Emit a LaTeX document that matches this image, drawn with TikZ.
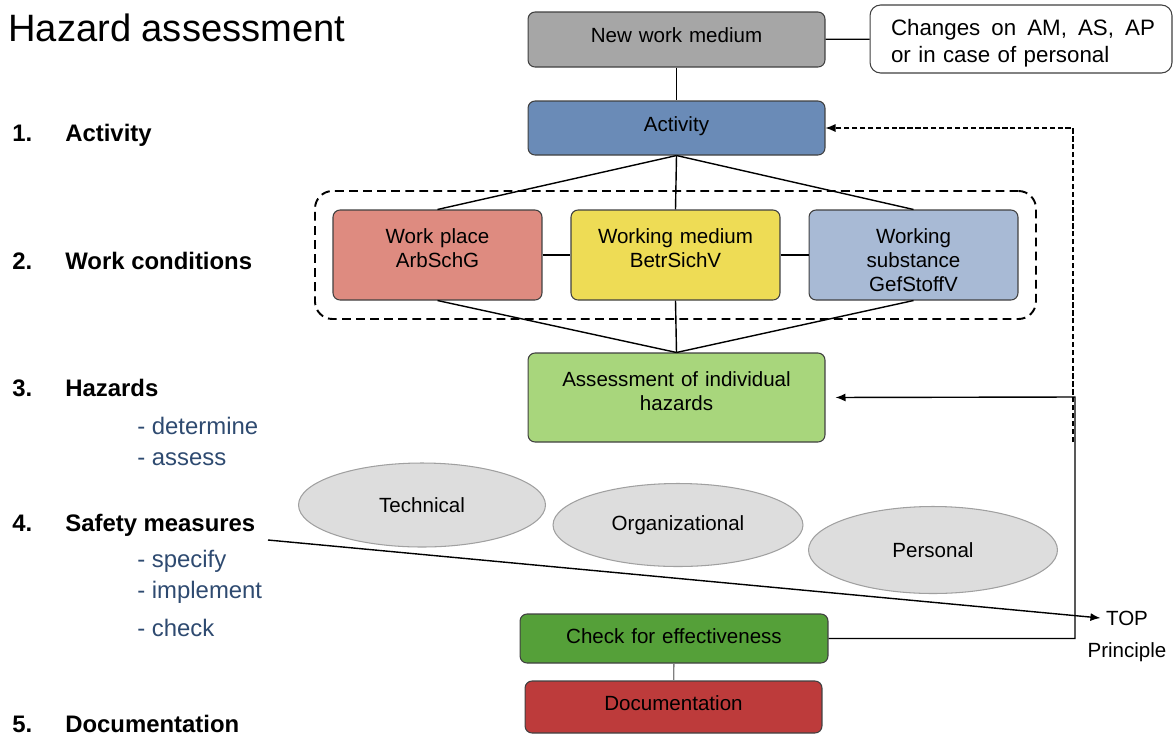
\documentclass[tikz,border=0pt]{standalone}
\usepackage{fontspec}
\setmainfont{Liberation Sans}
\usepackage{tikz}
\usetikzlibrary{positioning,arrows.meta,shapes.geometric,fit}
\definecolor{grisnew}{HTML}{A6A6A6}
\definecolor{azulact}{HTML}{6A8BB7}
\definecolor{rojowp}{HTML}{DE8B80}
\definecolor{amarillowm}{HTML}{EEDC55}
\definecolor{azulws}{HTML}{A8BAD5}
\definecolor{verdeass}{HTML}{A8D67C}
\definecolor{verdechk}{HTML}{55A039}
\definecolor{rojodoc}{HTML}{BD3B3B}
\definecolor{grisoval}{HTML}{DDDDDD}
\definecolor{bordeoval}{HTML}{A0A0A0}
\definecolor{azulsub}{HTML}{2E4A70}
\newcommand{\boxfont}{\fontsize{11.7}{13.8}\selectfont}
\newcommand{\itemfont}{\fontsize{13.6}{16}\selectfont}
\newcommand{\headfont}{\fontsize{21.7}{26}\selectfont}
\newcommand{\notefont}{\fontsize{12.7}{15.9}\selectfont}
\tikzset{arista/.style={line width=0.8pt}}
\tikzset{box/.style={draw=black!75,line width=0.6pt,rounded corners=4pt,text width=#1,align=center,inner xsep=0pt,inner ysep=0pt}}
\tikzset{tall/.style={text height=0.66cm,text depth=1.14cm}}
\tikzset{oval/.style={ellipse,draw=bordeoval,fill=grisoval,line width=0.6pt}}
\tikzset{num/.style={anchor=base west,inner sep=0pt,font=\itemfont\bfseries}}
\tikzset{sub/.style={anchor=base west,inner sep=0pt,font=\itemfont,text=azulsub}}
\tikzset{punta/.style={-{Latex[length=2mm,width=1.6mm]}}}

\begin{document}
\begin{tikzpicture}[x=0.02cm,y=-0.02cm,every node/.style={font=\boxfont}]
            \useasboundingbox (0,0) rectangle (1174,735);

            \node[anchor=base west,inner sep=0pt,font=\headfont] (title) at (8,41) {Hazard assessment};

            \node[num] (n1) at (12,141.5) {1.};
            \node[num] (l1) at (65,141.5) {Activity};
            \node[num] (n2) at (12,269.5) {2.};
            \node[num] (l2) at (65,269.5) {Work conditions};
            \node[num] (n3) at (12,396.5) {3.};
            \node[num] (l3) at (65,396.5) {Hazards};
            \node[num] (n4) at (12,531.5) {4.};
            \node[num] (l4) at (65,531.5) {Safety measures};
            \node[num] (n5) at (12,732.5) {5.};
            \node[num] (l5) at (65,732.5) {Documentation};

            \node[sub] (s1) at (137,434) {- determine};
            \node[sub] (s2) at (137,465) {- assess};
            \node[sub] (s3) at (137,567) {- specify};
            \node[sub] (s4) at (137,598) {- implement};
            \node[sub] (s5) at (137,636) {- check};

            \node[box=5.94cm,fill=grisnew,text height=0.6cm,text depth=0.5cm] (new) at (676.5,39.5) {New work medium};
            \node[draw=black!75,line width=0.6pt,rounded corners=6pt,fill=white,text width=5.36cm,align=left,
                  inner xsep=0.34cm,inner ysep=0pt,text height=0.6cm,text depth=0.76cm,font=\notefont] (chg) at (1021,39)
                  {\hspace*{0.08cm}Changes\hfill on\hfill AM,\hfill AS,\hfill AP\\\hspace*{0.08cm}or in case of personal};
            \node[box=5.94cm,fill=azulact,text height=0.6cm,text depth=0.48cm] (act) at (676.5,128) {Activity};

            \node[box=4.18cm,fill=amarillowm,tall] (wm) at (675.5,255) {Working medium\\BetrSichV};
            \node[box=4.18cm,fill=rojowp,tall,left=0.56cm of wm] (wp) {Work place\\ArbSchG};
            \node[box=4.18cm,fill=azulws,tall,right=0.56cm of wm] (ws) {Working\\substance\\GefStoffV};
            \node[draw,line width=1.1pt,dash pattern=on 5pt off 3pt,rounded corners=10pt,
                  fit=(wp)(ws),inner xsep=0.35cm,inner ysep=0.37cm] (cond) {};

            \node[box=5.94cm,fill=verdeass,text height=0.66cm,text depth=1.12cm] (ass) at (676.5,397.5) {Assessment of individual\\hazards};

            \node[oval,minimum width=4.94cm,minimum height=1.68cm] (tec) at (422,505) {Technical};
            \node[oval,minimum width=5cm,minimum height=1.66cm] (org) at (678,525) {Organizational};
            \node[oval,minimum width=4.98cm,minimum height=1.74cm] (per) at (933,550) {Personal};

            \node[box=6.16cm,fill=verdechk,text height=0.58cm,text depth=0.4cm] (chk) at (674,638.5) {Check for effectiveness};
            \node[box=5.94cm,fill=rojodoc,text height=0.58cm,text depth=0.46cm] (doc) at (673.5,707) {Documentation};

            \node[inner sep=3pt] (top) at (1127,618) {TOP};
            \node[inner sep=3pt] (prin) at (1127,652) {Principle};

            \coordinate (sm) at (268,540);
            \coordinate (back) at (1075,397);
            \coordinate (fb) at (1073,442);

            \draw[arista] (new) to (chg);
            \draw[arista] (new) to (act);
            \draw[arista] (act.south) to (wp.north);
            \draw[arista] (act.south) to (wm.north);
            \draw[arista] (act.south) to (ws.north);
            \draw[arista] (wp) to (wm);
            \draw[arista] (wm) to (ws);
            \draw[arista] (wp.south) to (ass.north);
            \draw[arista] (wm.south) to (ass.north);
            \draw[arista] (ws.south) to (ass.north);
            \draw[arista,black!50] (chk) to (doc);
            \draw[arista,punta] (sm) to (top.west);
            \draw[arista,punta,shorten >=0.2cm] (chk.east) -| (back) -- (ass.east);
            \draw[line width=0.6pt,dash pattern=on 3pt off 1.5pt,punta] (fb) |- (act.east);
        \end{tikzpicture}
\end{document}
